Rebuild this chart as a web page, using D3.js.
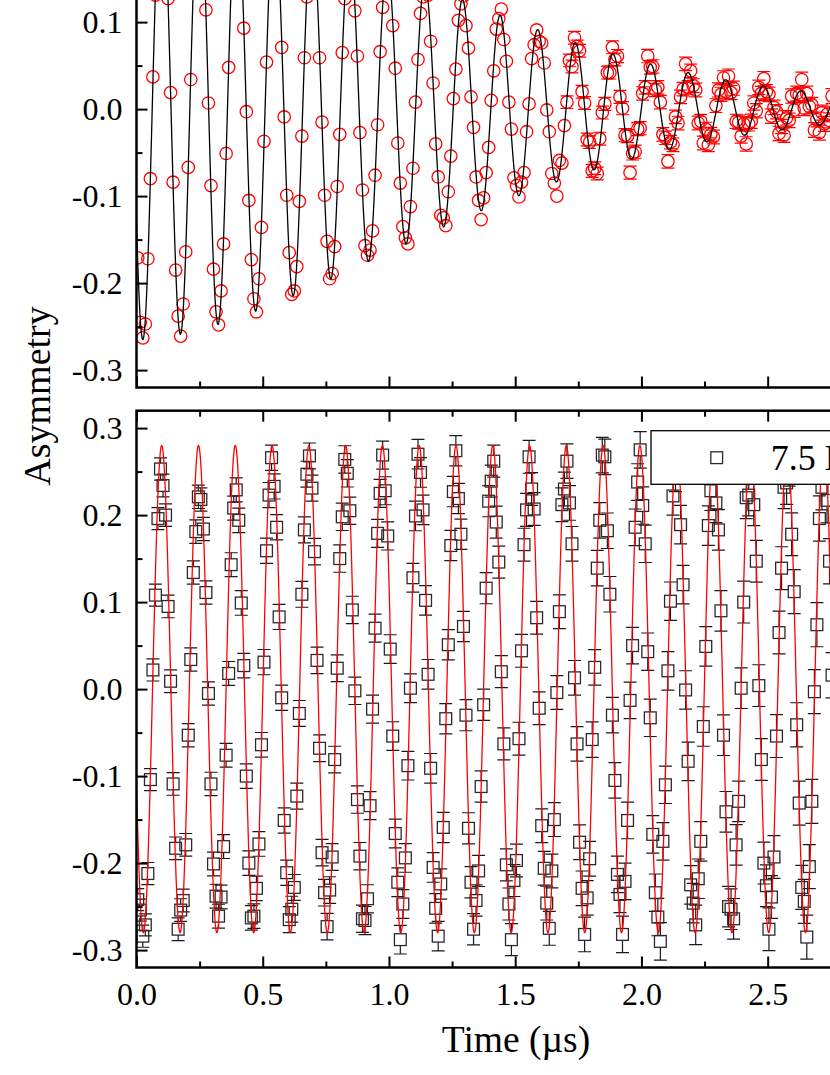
<!DOCTYPE html>
<html><head><meta charset="utf-8">
<script src="https://cdn.jsdelivr.net/npm/d3@7"></script>
<style>
html,body{margin:0;padding:0;background:#fff;overflow:hidden;}
svg{display:block;}
</style></head><body>
<svg id="chart" width="830" height="1075"></svg>
<script>
// ---- data ----
const time = [
0.005,0.015,0.025,0.035,0.045,0.055,0.065,0.075,0.085,0.095,
0.105,0.115,0.125,0.135,0.145,0.155,0.165,0.175,0.185,0.195,
0.205,0.215,0.225,0.235,0.245,0.255,0.265,0.275,0.285,0.295,
0.305,0.315,0.325,0.335,0.345,0.355,0.365,0.375,0.385,0.395,
0.405,0.415,0.425,0.435,0.445,0.455,0.465,0.475,0.485,0.495,
0.505,0.515,0.525,0.535,0.545,0.555,0.565,0.575,0.585,0.595,
0.605,0.615,0.625,0.635,0.645,0.655,0.665,0.675,0.685,0.695,
0.705,0.715,0.725,0.735,0.745,0.755,0.765,0.775,0.785,0.795,
0.805,0.815,0.825,0.835,0.845,0.855,0.865,0.875,0.885,0.895,
0.905,0.915,0.925,0.935,0.945,0.955,0.965,0.975,0.985,0.995,
1.005,1.015,1.025,1.035,1.045,1.055,1.065,1.075,1.085,1.095,
1.105,1.115,1.125,1.135,1.145,1.155,1.165,1.175,1.185,1.195,
1.205,1.215,1.225,1.235,1.245,1.255,1.265,1.275,1.285,1.295,
1.305,1.315,1.325,1.335,1.345,1.355,1.365,1.375,1.385,1.395,
1.405,1.415,1.425,1.435,1.445,1.455,1.465,1.475,1.485,1.495,
1.505,1.515,1.525,1.535,1.545,1.555,1.565,1.575,1.585,1.595,
1.605,1.615,1.625,1.635,1.645,1.655,1.665,1.675,1.685,1.695,
1.705,1.715,1.725,1.735,1.745,1.755,1.765,1.775,1.785,1.795,
1.805,1.815,1.825,1.835,1.845,1.855,1.865,1.875,1.885,1.895,
1.905,1.915,1.925,1.935,1.945,1.955,1.965,1.975,1.985,1.995,
2.005,2.015,2.025,2.035,2.045,2.055,2.065,2.075,2.085,2.095,
2.105,2.115,2.125,2.135,2.145,2.155,2.165,2.175,2.185,2.195,
2.205,2.215,2.225,2.235,2.245,2.255,2.265,2.275,2.285,2.295,
2.305,2.315,2.325,2.335,2.345,2.355,2.365,2.375,2.385,2.395,
2.405,2.415,2.425,2.435,2.445,2.455,2.465,2.475,2.485,2.495,
2.505,2.515,2.525,2.535,2.545,2.555,2.565,2.575,2.585,2.595,
2.605,2.615,2.625,2.635,2.645,2.655,2.665,2.675,2.685,2.695,
2.705,2.715,2.725,2.735,2.745,2.755];

const asymTop = [
-0.171,-0.245,-0.263,-0.247,-0.172,-0.080,0.037,0.131,0.216,0.256,
0.261,0.200,0.127,0.019,-0.084,-0.185,-0.238,-0.261,-0.224,-0.164,
-0.067,0.034,0.142,0.219,0.247,0.245,0.187,0.114,0.007,-0.088,
-0.184,-0.233,-0.248,-0.209,-0.155,-0.051,0.048,0.145,0.203,0.241,
0.224,0.182,0.093,-0.003,-0.105,-0.173,-0.218,-0.233,-0.195,-0.136,
-0.037,0.054,0.146,0.195,0.224,0.206,0.163,0.071,-0.009,-0.099,
-0.165,-0.213,-0.209,-0.181,-0.106,-0.031,0.059,0.129,0.189,0.210,
0.185,0.140,0.059,-0.015,-0.099,-0.152,-0.195,-0.189,-0.158,-0.089,
-0.029,0.065,0.127,0.178,0.177,0.169,0.113,0.061,-0.027,-0.093,
-0.157,-0.168,-0.162,-0.140,-0.076,-0.018,0.066,0.117,0.165,0.157,
0.146,0.096,0.047,-0.039,-0.085,-0.135,-0.148,-0.155,-0.112,-0.068,
0.008,0.057,0.110,0.129,0.149,0.131,0.078,0.030,-0.040,-0.078,
-0.122,-0.125,-0.134,-0.095,-0.054,0.012,0.046,0.102,0.121,0.130,
0.096,0.070,0.014,-0.021,-0.078,-0.105,-0.127,-0.102,-0.073,-0.044,
0.010,0.044,0.092,0.104,0.115,0.080,0.055,0.008,-0.023,-0.079,
-0.088,-0.101,-0.084,-0.073,-0.026,0.006,0.058,0.074,0.091,0.078,
0.076,0.053,-0.001,-0.026,-0.074,-0.085,-0.100,-0.059,-0.062,-0.019,
0.008,0.056,0.049,0.082,0.072,0.067,0.020,0.007,-0.035,-0.038,
-0.071,-0.068,-0.074,-0.034,-0.004,0.006,0.042,0.042,0.071,0.057,
0.061,0.014,0.001,-0.030,-0.031,-0.073,-0.051,-0.049,-0.023,-0.022,
0.018,0.025,0.061,0.048,0.049,0.022,0.025,0.008,-0.029,-0.033,
-0.060,-0.038,-0.041,-0.009,-0.016,0.014,0.023,0.052,0.025,0.044,
0.027,0.022,-0.016,-0.014,-0.039,-0.023,-0.041,-0.029,-0.032,0.004,
0.022,0.017,0.036,0.020,0.038,0.019,0.024,-0.014,-0.015,-0.031,
-0.017,-0.040,-0.017,-0.014,0.007,-0.002,0.025,0.018,0.035,0.020,
0.017,-0.008,0.002,-0.003,-0.028,-0.020,-0.030,-0.010,-0.013,0.015,
-0.001,0.018,0.016,0.034,0.001,0.018,0.003,0.005,-0.024,-0.012,
-0.027,-0.004,-0.017,-0.006,-0.013,0.015];

const asymBottom = [
-0.242,-0.254,-0.284,-0.271,-0.212,-0.104,0.022,0.108,0.196,0.253,
0.234,0.200,0.095,0.009,-0.109,-0.183,-0.276,-0.254,-0.243,-0.179,
-0.053,0.034,0.134,0.181,0.221,0.218,0.184,0.111,-0.005,-0.109,
-0.201,-0.238,-0.261,-0.239,-0.181,-0.076,0.018,0.143,0.208,0.229,
0.194,0.099,0.027,-0.100,-0.200,-0.263,-0.261,-0.229,-0.178,-0.064,
0.031,0.159,0.223,0.266,0.233,0.186,0.083,-0.010,-0.151,-0.211,
-0.265,-0.253,-0.228,-0.123,-0.028,0.109,0.183,0.247,0.268,0.231,
0.158,0.033,-0.068,-0.188,-0.234,-0.273,-0.231,-0.193,-0.081,0.024,
0.150,0.198,0.264,0.248,0.205,0.091,-0.002,-0.127,-0.192,-0.264,
-0.266,-0.241,-0.134,-0.023,0.070,0.179,0.225,0.269,0.228,0.176,
0.046,-0.054,-0.166,-0.222,-0.288,-0.247,-0.194,-0.088,0.001,0.128,
0.199,0.270,0.249,0.206,0.102,0.017,-0.091,-0.205,-0.252,-0.284,
-0.224,-0.159,-0.034,0.051,0.165,0.227,0.274,0.219,0.178,0.072,
-0.030,-0.160,-0.222,-0.276,-0.243,-0.209,-0.112,-0.018,0.116,0.216,
0.239,0.262,0.192,0.146,0.020,-0.063,-0.202,-0.247,-0.288,-0.220,
-0.197,-0.057,0.044,0.166,0.206,0.267,0.230,0.207,0.082,-0.022,
-0.157,-0.206,-0.246,-0.275,-0.209,-0.150,-0.004,0.089,0.212,0.230,
0.262,0.214,0.167,0.013,-0.063,-0.176,-0.229,-0.282,-0.240,-0.195,
-0.058,0.025,0.139,0.194,0.269,0.267,0.182,0.109,-0.030,-0.105,
-0.213,-0.236,-0.282,-0.221,-0.151,-0.013,0.050,0.186,0.238,0.275,
0.211,0.167,0.043,-0.033,-0.167,-0.234,-0.262,-0.290,-0.175,-0.110,
0.021,0.101,0.222,0.249,0.272,0.189,0.120,-0.001,-0.083,-0.225,
-0.246,-0.271,-0.218,-0.175,-0.043,0.049,0.188,0.228,0.262,0.214,
0.183,0.090,-0.053,-0.141,-0.250,-0.253,-0.264,-0.179,-0.129,0.001,
0.100,0.220,0.223,0.266,0.212,0.147,0.004,-0.081,-0.200,-0.226,
-0.276,-0.239,-0.193,-0.054,0.065,0.139,0.232,0.237,0.258,0.178,
0.112,-0.041,-0.131,-0.228,-0.244,-0.285,-0.204,-0.129,-0.003,0.074,
0.196,0.232,0.270,0.217,0.147,0.016];

// error bar half-lengths, one value per 0.1 µs block
const errTop = [0.0050,0.0051,0.0053,0.0054,0.0055,0.0057,0.0058,0.0059,0.0061,0.0062,
0.0063,0.0065,0.0066,0.0067,0.0069,0.0070,0.0071,0.0073,0.0074,0.0075,
0.0077,0.0078,0.0079,0.0081,0.0082,0.0083,0.0085,0.0086];
const errBottom = [0.0127,0.0130,0.0134,0.0137,0.0141,0.0145,0.0149,0.0153,0.0157,0.0161,
0.0165,0.0170,0.0174,0.0179,0.0184,0.0189,0.0194,0.0199,0.0204,0.0210,
0.0215,0.0221,0.0227,0.0233,0.0240,0.0246,0.0253,0.0260];

// fitted model parameters
const fitTop = [0.265, 6.711, 0.025, 0.6525, 1.72];    // amplitude, frequency (MHz), trough time, relaxation, stretch
const fitBottom = [0.28, 6.863, 0.027, 0, 1];

const xTicks = [0, 0.5, 1.0, 1.5, 2.0, 2.5, 3.0];
const xTickLabels = ["0.0","0.5","1.0","1.5","2.0","2.5","3.0"];
const xMinor = [0.25, 0.75, 1.25, 1.75, 2.25, 2.75];
const yTicks = [-0.3, -0.2, -0.1, 0, 0.1, 0.2, 0.3];
const yTickLabels = ["-0.3","-0.2","-0.1","0.0","0.1","0.2","0.3"];
const yMinor = [-0.25, -0.15, -0.05, 0.05, 0.15, 0.25];
const legendBottom = ["7.5 K"];
const axisTitles = ["Time (µs)", "Asymmetry"];

// ---- drawing ----
const FONT = '"Liberation Serif","Times New Roman",Times,serif';
const W = 830, H = 1075;
const svg = d3.select("#chart");
const x = d3.scaleLinear().domain([0, 3]).range([136.5, 893.9]);
const yT = d3.scaleLinear().domain([-0.32, 0.32]).range([387.5, -169.3]);
const yB = d3.scaleLinear().domain([-0.32, 0.32]).range([967.5, 410.7]);

function fitCurve(p, t) {
  const [a, f, t0, lam, beta] = p;
  const env = lam > 0 ? Math.exp(-Math.pow(lam * t, beta)) : 1;
  return -a * env * Math.cos(2 * Math.PI * f * (t - t0));
}

function errFor(arr, t) { return arr[Math.min(Math.floor(t / 0.1), arr.length - 1)]; }

function panel(y, opts) {
  const [x0, x1] = x.range();
  const [yb, yt] = y.range();
  const clipId = "clip" + opts.id;
  svg.append("clipPath").attr("id", clipId).append("rect")
    .attr("x", x0).attr("y", yt).attr("width", x1 - x0).attr("height", yb - yt);
  const data = svg.append("g").attr("clip-path", `url(#${clipId})`);

  // error bars
  const r = opts.half;
  time.forEach((t, i) => {
    const v = opts.values[i];
    const cx = x(t), cy = y(v);
    const e = Math.abs(y(0) - y(errFor(opts.errs, t)));
    if (e > r) {
      data.append("path")
        .attr("d", `M${cx},${cy - r}V${cy - e}M${cx - 6.5},${cy - e}H${cx + 6.5}M${cx},${cy + r}V${cy + e}M${cx - 6.5},${cy + e}H${cx + 6.5}`)
        .attr("stroke", opts.barColor).attr("stroke-width", 1.2).attr("fill", "none");
    }
  });
  // markers
  if (opts.shape === "circle") {
    data.selectAll("circle.pt").data(time).join("circle").attr("class", "pt")
      .attr("cx", d => x(d)).attr("cy", (d, i) => y(opts.values[i])).attr("r", r)
      .attr("fill", "none").attr("stroke", opts.markColor).attr("stroke-width", 1.3);
  } else {
    data.selectAll("rect.pt").data(time).join("rect").attr("class", "pt")
      .attr("x", d => x(d) - r).attr("y", (d, i) => y(opts.values[i]) - r)
      .attr("width", 2 * r).attr("height", 2 * r)
      .attr("fill", "none").attr("stroke", opts.markColor).attr("stroke-width", 1.3);
  }
  // fit
  const ts = d3.range(0, 3.0005, 0.001);
  data.append("path").datum(ts)
    .attr("d", d3.line().x(d => x(d)).y(d => y(fitCurve(opts.fit, d))))
    .attr("fill", "none").attr("stroke", opts.fitColor).attr("stroke-width", 1.3);

  // axes
  const ax = svg.append("g");
  function styleAxis(sel) {
    sel.select(".domain").remove();
    sel.selectAll(".tick line").attr("stroke", "#000").attr("stroke-width", 2);
    sel.attr("font-family", FONT).attr("font-size", 32);
    sel.selectAll(".tick text").attr("fill", "#000");
    // drop labels that lie wholly outside the picture
    sel.selectAll(".tick").filter(function () {
      const m = /translate\(([-\d.]+),\s*([-\d.]+)\)/.exec(this.getAttribute("transform"));
      if (!m) return false;
      const p = this.parentNode.getAttribute("transform");
      const pm = /translate\(([-\d.]+),\s*([-\d.]+)\)/.exec(p || "translate(0,0)");
      const gx = +m[1] + +pm[1], gy = +m[2] + +pm[2];
      return gy < 0 || gx > W + 40;
    }).select("text").remove();
  }
  ax.append("g").attr("transform", `translate(${x0},0)`)
    .call(d3.axisLeft(y).tickValues(yTicks).tickFormat((d, i) => yTickLabels[i]).tickSize(-11).tickPadding(14)).call(styleAxis);
  ax.append("g").attr("transform", `translate(${x0},0)`)
    .call(d3.axisLeft(y).tickValues(yMinor).tickFormat("").tickSize(-6)).call(styleAxis);
  ax.append("g").attr("transform", `translate(${x1},0)`)
    .call(d3.axisRight(y).tickValues(yTicks).tickFormat("").tickSize(-11)).call(styleAxis);
  ax.append("g").attr("transform", `translate(${x1},0)`)
    .call(d3.axisRight(y).tickValues(yMinor).tickFormat("").tickSize(-6)).call(styleAxis);
  ax.append("g").attr("transform", `translate(0,${yb})`)
    .call(d3.axisBottom(x).tickValues(xTicks).tickFormat(opts.xLabels ? (d, i) => xTickLabels[i] : "").tickSize(-11).tickPadding(15)).call(styleAxis);
  ax.append("g").attr("transform", `translate(0,${yb})`)
    .call(d3.axisBottom(x).tickValues(xMinor).tickFormat("").tickSize(-6)).call(styleAxis);
  ax.append("g").attr("transform", `translate(0,${yt})`)
    .call(d3.axisTop(x).tickValues(xTicks).tickFormat("").tickSize(-11)).call(styleAxis);
  ax.append("g").attr("transform", `translate(0,${yt})`)
    .call(d3.axisTop(x).tickValues(xMinor).tickFormat("").tickSize(-6)).call(styleAxis);
  ax.append("rect").attr("x", x0).attr("y", yt).attr("width", x1 - x0).attr("height", yb - yt)
    .attr("fill", "none").attr("stroke", "#000").attr("stroke-width", 2.5);
}

panel(yT, {id: "T", values: asymTop, errs: errTop, fit: fitTop, shape: "circle", half: 6.2,
  markColor: "#ff0000", barColor: "#ff0000", fitColor: "#000", xLabels: false});
panel(yB, {id: "B", values: asymBottom, errs: errBottom, fit: fitBottom, shape: "square", half: 5.9,
  markColor: "#2a2a2a", barColor: "#1a1a1a", fitColor: "#ff0000", xLabels: true});

// legend (bottom panel)
const lg = svg.append("g");
lg.append("rect").attr("x", 651).attr("y", 430.7).attr("width", 300).attr("height", 53.6)
  .attr("fill", "#fff").attr("stroke", "#000").attr("stroke-width", 1.3);
lg.append("rect").attr("x", 716.7 - 5.9).attr("y", 457.7 - 5.9).attr("width", 11.8).attr("height", 11.8)
  .attr("fill", "none").attr("stroke", "#2a2a2a").attr("stroke-width", 1.3);
lg.append("text").attr("x", 770.7).attr("y", 470).attr("font-family", FONT).attr("font-size", 36)
  .text(legendBottom[0]);

// axis titles
svg.append("text").attr("x", 516).attr("y", 1052).attr("text-anchor", "middle")
  .attr("font-family", FONT).attr("font-size", 37.5).text(axisTitles[0]);
svg.append("text").attr("transform", "translate(50,396) rotate(-90)").attr("text-anchor", "middle")
  .attr("font-family", FONT).attr("font-size", 38).text(axisTitles[1]);
</script>
</body></html>
